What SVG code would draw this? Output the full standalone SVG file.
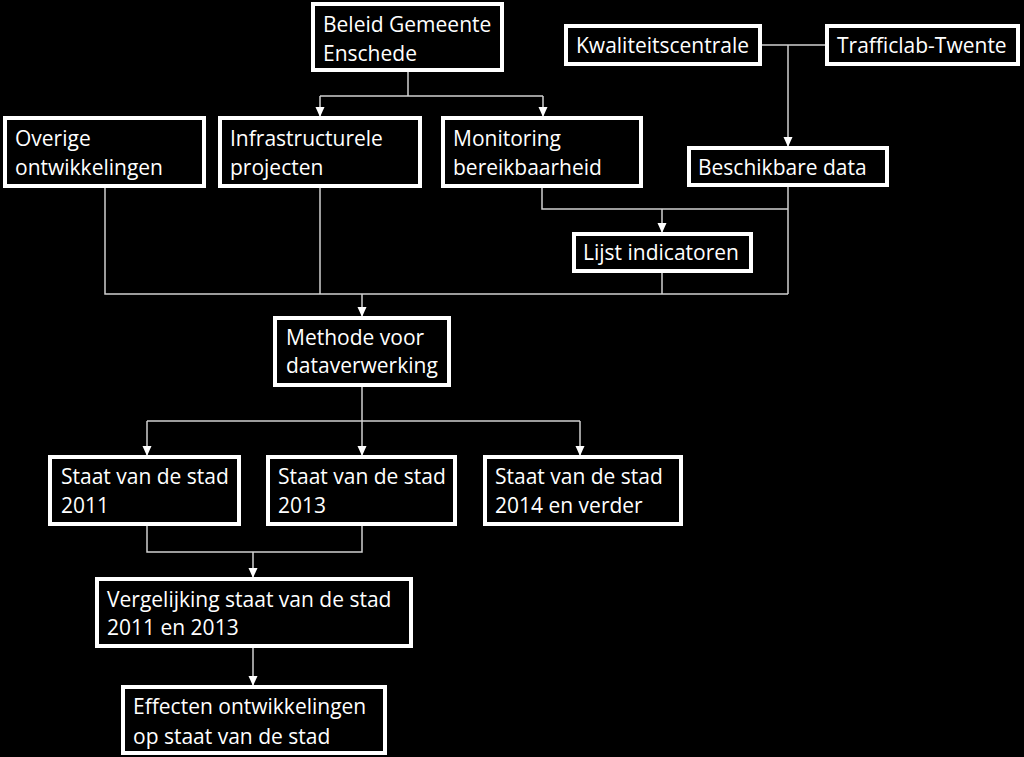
<svg xmlns="http://www.w3.org/2000/svg" width="1024" height="757" viewBox="0 0 1024 757">
<style>
.box{fill:#000;stroke:#fff;stroke-width:4}
.t{font-family:"Open Sans","Liberation Sans",sans-serif;font-size:21px;fill:#fff}
.c{fill:none;stroke:#d0d0d0;stroke-width:1.5}
.a{fill:none;stroke:#d0d0d0;stroke-width:1.5;marker-end:url(#ah)}
</style>
<defs>
<marker id="ah" markerUnits="userSpaceOnUse" markerWidth="12" markerHeight="10" refX="10" refY="4.5" orient="auto">
<path d="M0,0 L10,4.5 L0,9 Z" fill="#fff"/>
</marker>
</defs>
<rect width="1024" height="757" fill="#000"/>
<g id="connectors">
<polyline class="c" points="408,72 408,96"/>
<polyline class="c" points="320,96 543,96"/>
<polyline class="a" points="320,96 320,117"/>
<polyline class="a" points="543,96 543,117"/>
<polyline class="c" points="762,45 825,45"/>
<polyline class="a" points="788,45 788,147"/>
<polyline class="c" points="542,188 542,209 788,209"/>
<polyline class="a" points="662,209 662,233"/>
<polyline class="c" points="788,187 788,294"/>
<polyline class="c" points="105,188 105,294 788,294"/>
<polyline class="c" points="320,188 320,294"/>
<polyline class="c" points="662,273 662,294"/>
<polyline class="a" points="362,294 362,317"/>
<polyline class="c" points="362,387 362,421"/>
<polyline class="c" points="147,421 580,421"/>
<polyline class="a" points="147,421 147,456"/>
<polyline class="a" points="362,421 362,456"/>
<polyline class="a" points="580,421 580,456"/>
<polyline class="c" points="147,526 147,552 362,552 362,526"/>
<polyline class="a" points="253,552 253,578"/>
<polyline class="a" points="253,648 253,686"/>
</g>
<g id="beleid"><rect class="box" x="313" y="4" width="189" height="66"/><text class="t" x="323" y="32">Beleid Gemeente</text><text class="t" x="323" y="61">Enschede</text></g>
<g id="kwaliteitscentrale"><rect class="box" x="566" y="26" width="194" height="38"/><text class="t" x="576" y="53">Kwaliteitscentrale</text></g>
<g id="trafficlab"><rect class="box" x="827" y="26" width="191" height="38"/><text class="t" x="837" y="53">Trafficlab-Twente</text></g>
<g id="overige"><rect class="box" x="5" y="118" width="199" height="68"/><text class="t" x="15" y="146">Overige</text><text class="t" x="15" y="175">ontwikkelingen</text></g>
<g id="infra"><rect class="box" x="220" y="118" width="200" height="68"/><text class="t" x="230" y="146">Infrastructurele</text><text class="t" x="230" y="175">projecten</text></g>
<g id="monitoring"><rect class="box" x="443" y="118" width="198" height="68"/><text class="t" x="453" y="146">Monitoring</text><text class="t" x="453" y="175">bereikbaarheid</text></g>
<g id="beschikbare"><rect class="box" x="689" y="148" width="198" height="37"/><text class="t" x="698" y="175">Beschikbare data</text></g>
<g id="lijst"><rect class="box" x="574" y="234" width="177" height="37"/><text class="t" x="583" y="260">Lijst indicatoren</text></g>
<g id="methode"><rect class="box" x="275" y="318" width="174" height="67"/><text class="t" x="286" y="345">Methode voor</text><text class="t" x="286" y="373">dataverwerking</text></g>
<g id="staat2011"><rect class="box" x="50" y="457" width="189" height="67"/><text class="t" x="61" y="484">Staat van de stad</text><text class="t" x="61" y="513">2011</text></g>
<g id="staat2013"><rect class="box" x="268" y="457" width="187" height="67"/><text class="t" x="278" y="484">Staat van de stad</text><text class="t" x="278" y="513">2013</text></g>
<g id="staat2014"><rect class="box" x="485" y="457" width="196" height="67"/><text class="t" x="495" y="484">Staat van de stad</text><text class="t" x="495" y="513">2014 en verder</text></g>
<g id="vergelijking"><rect class="box" x="97" y="579" width="314" height="67"/><text class="t" x="107" y="607">Vergelijking staat van de stad</text><text class="t" x="107" y="635">2011 en 2013</text></g>
<g id="effecten"><rect class="box" x="123" y="687" width="262" height="66"/><text class="t" x="133" y="714">Effecten ontwikkelingen</text><text class="t" x="133" y="744">op staat van de stad</text></g>
</svg>
